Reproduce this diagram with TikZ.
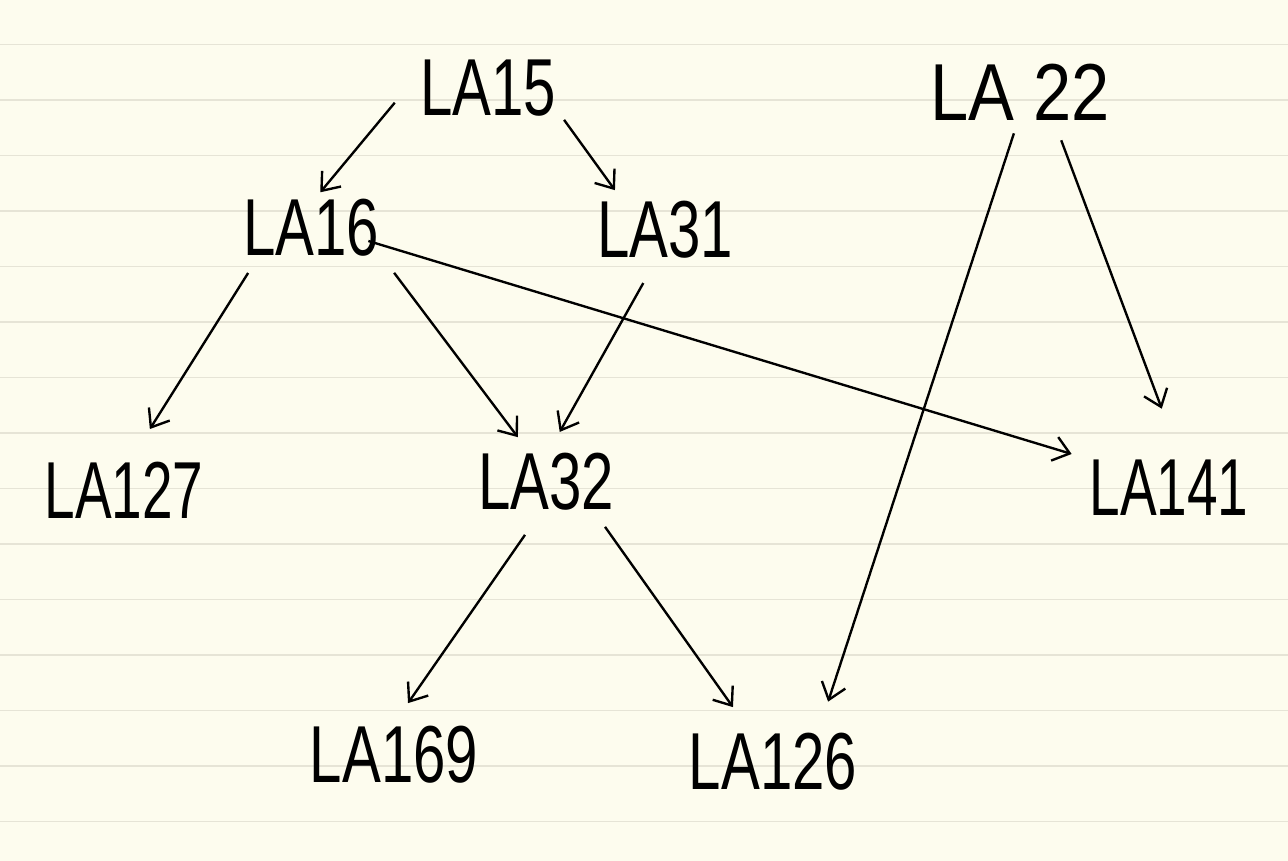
\documentclass[tikz,border=0pt]{standalone}
\usepackage{fontspec}
\setmainfont{Liberation Sans}
\usetikzlibrary{arrows.meta}
\definecolor{paper}{HTML}{FDFCEE}
\definecolor{rule}{HTML}{E6E4D6}
\newcommand{\hw}[2][0.72]{\scalebox{#1}[1]{#2}}
\tikzset{
  lab/.style={inner sep=0pt, text=black, font=\fontsize{46}{46}\selectfont},
  arr/.style={line width=1.35pt, -{Straight Barb[length=9pt,width=14pt,line width=1.35pt]}, shorten <=2pt, shorten >=2pt},
}
\begin{document}
\begin{tikzpicture}[x=0.02cm,y=-0.02cm]
\fill[paper] (0,0) rectangle (1288,861);
\useasboundingbox (0,0) rectangle (1288,861);
\foreach \yy in {44.5,100,155.5,211,266.5,322,377.5,433,488.5,544,599.5,655,710.5,766,821.5}
  \draw[rule, line width=1.1pt] (0,\yy) -- (1288,\yy);
\node[lab] (la15) at (488,88) {\hw{LA15}};
\node[lab] (la22) at (1020,92) {\hw[0.85]{LA 22}};
\node[lab] (la16) at (311,228) {\hw{LA16}};
\node[lab] (la31) at (665,230) {\hw{LA31}};
\node[lab] (la127) at (124,490) {\hw[0.68]{LA127}};
\node[lab] (la32) at (546,482) {\hw{LA32}};
\node[lab] (la141) at (1169,488) {\hw[0.68]{LA141}};
\node[lab] (la169) at (394,755) {\hw{LA169}};
\node[lab] (la126) at (773,762) {\hw{LA126}};
\coordinate (a1s) at (397,100); \coordinate (a1e) at (318,195);
\coordinate (a2s) at (562,117); \coordinate (a2e) at (617,193);
\coordinate (a3s) at (1015,130); \coordinate (a3e) at (827,705);
\coordinate (a4s) at (1060,137); \coordinate (a4e) at (1163,412);
\coordinate (a5s) at (250,270); \coordinate (a5e) at (148,432);
\coordinate (a6s) at (392,270); \coordinate (a6e) at (520,440);
\coordinate (a7s) at (365,240); \coordinate (a7e) at (1075,455);
\coordinate (a8s) at (645,280); \coordinate (a8e) at (558,435);
\coordinate (a9s) at (527,532); \coordinate (a9e) at (406,706);
\coordinate (a10s) at (603,524); \coordinate (a10e) at (735,710);
\foreach \i in {1,...,10} \draw[arr] (a\i s) -- (a\i e);
\end{tikzpicture}
\end{document}
